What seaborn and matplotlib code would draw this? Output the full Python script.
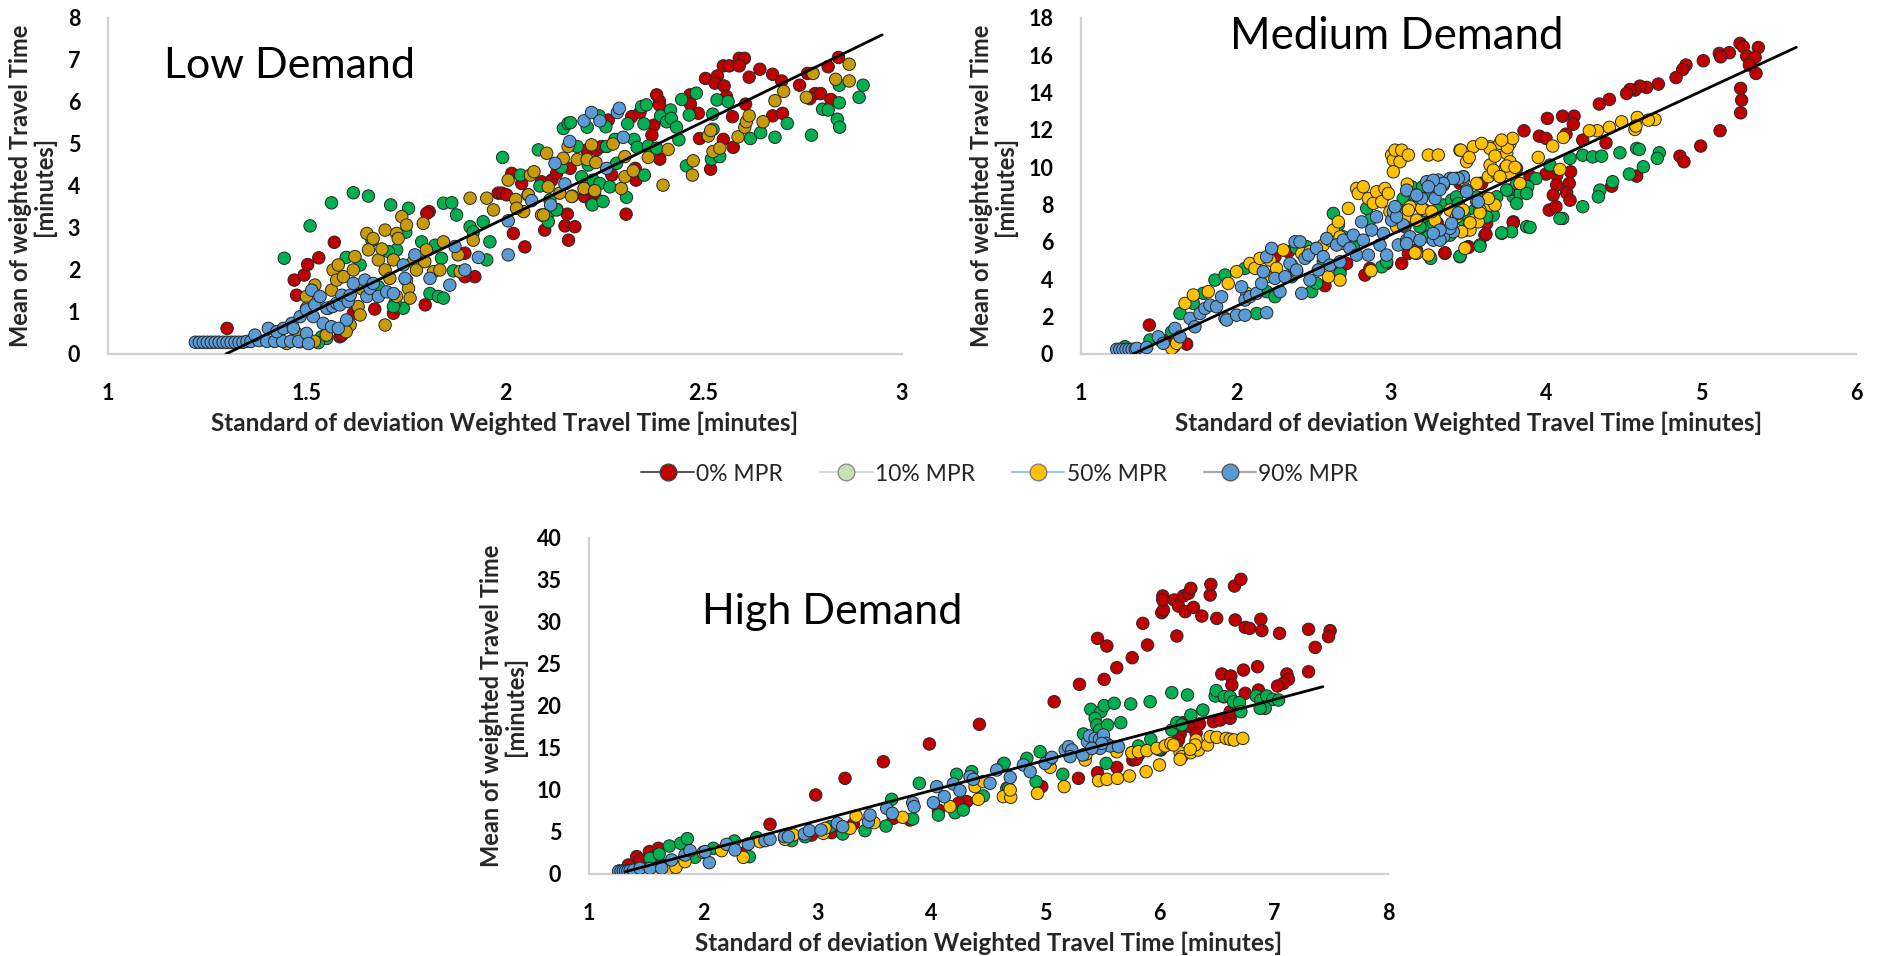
import numpy as np
import pandas as pd
import matplotlib
matplotlib.use("Agg")
import matplotlib.pyplot as plt
import seaborn as sns
from matplotlib.lines import Line2D
from matplotlib.ticker import FuncFormatter

# ---------------- series / labels ----------------
series_names = ["0% MPR", "10% MPR", "50% MPR", "90% MPR"]
panel_titles = ["Low Demand", "Medium Demand", "High Demand"]
x_label = "Standard of deviation Weighted Travel Time [minutes]"
y_label = "Mean of weighted Travel Time\n[minutes]"

low_xticks = [1, 1.5, 2, 2.5, 3]
low_yticks = [0, 1, 2, 3, 4, 5, 6, 7, 8]
med_xticks = [1, 2, 3, 4, 5, 6]
med_yticks = [0, 2, 4, 6, 8, 10, 12, 14, 16, 18]
high_xticks = [1, 2, 3, 4, 5, 6, 7, 8]
high_yticks = [0, 5, 10, 15, 20, 25, 30, 35, 40]

# trend lines (end points)
low_trend_x = [1.297, 2.95]
low_trend_y = [0.0, 7.6]
med_trend_x = [1.335, 5.615]
med_trend_y = [0.0, 16.43]
high_trend_x = [1.32, 7.43]
high_trend_y = [0.28, 22.3]

# ---------------- LOW demand ----------------
low_0 = [(1.30,0.61),(1.475,1.40),(1.469,1.76),(1.494,1.88),(1.503,2.13),(1.531,2.29),(1.57,2.66),
         (1.672,1.07),(1.719,0.97),(1.584,0.41),(1.809,3.39),(1.924,1.84),(1.899,1.84),(1.983,3.83),
         (1.803,3.35),(1.799,1.17),(1.618,0.97),(1.589,0.45),(1.899,2.40),
         (2.021,2.87),(2.05,2.55),(2.16,2.71),(2.10,2.95),(2.151,3.05),(2.176,3.03),(2.305,3.33),
         (2.157,3.33),(2.518,4.40),(2.575,4.92),(2.55,5.11),(2.49,5.13),(2.39,4.64),(2.33,4.14),
         (2.389,6.02),(2.389,5.93),(2.466,6.17),(2.467,5.95),(2.487,5.73),(2.505,6.56),(2.535,6.62),
         (2.529,6.45),(2.552,6.38),(2.55,6.86),(2.565,6.86),(2.59,7.04),(2.603,7.04),(2.59,6.86),
         (2.615,6.59),(2.642,6.78),(2.674,6.66),(2.697,6.50),(2.606,5.95),(2.558,6.13),(2.573,5.65),
         (2.674,5.67),(2.699,5.73),(2.742,6.40),(2.762,6.68),(2.781,6.20),(2.795,6.20),(2.768,6.08),
         (2.821,6.06),(2.814,6.84),(2.84,7.06),
         (2.017,4.30),(2.042,4.06),(2.092,4.10),(2.118,4.14),(2.13,4.30),(2.164,4.42),(2.206,4.86),
         (2.231,4.86),(2.26,5.57),(2.243,4.94),(2.269,4.26),(2.319,5.65),(2.34,5.75),(2.382,6.17),
         (2.375,5.45),(2.37,5.21),(2.328,4.42),(2.20,3.75),(2.20,3.94),(2.227,3.75),(2.218,3.59),
         (1.992,3.83),(2.004,3.79)]
low_10 = [(1.444,2.28),(1.509,3.05),(1.563,3.60),(1.618,3.84),(1.656,3.76),(1.712,3.55),(1.757,3.47),
          (1.727,2.48),(1.635,2.12),(1.706,2.44),(1.845,3.59),(1.866,3.60),(1.878,3.31),(1.811,1.44),
          (1.832,1.37),(1.845,1.33),(1.79,2.67),(1.824,2.59),(1.84,2.28),(1.87,1.98),(1.744,1.09),
          (1.723,1.21),(1.538,0.41),(1.551,0.37),(1.53,0.27),(1.912,3.03),(1.92,2.91),(1.945,3.15),
          (1.954,2.24),(1.962,2.67),(1.681,1.60),(1.719,1.13),(1.60,2.30),(1.665,2.70),(1.75,2.90),
          (1.994,4.68),(2.039,4.26),(2.084,4.86),(2.088,4.00),(2.109,3.35),(2.109,3.15),(2.131,3.44),
          (2.142,4.44),(2.147,5.37),(2.159,5.49),(2.165,5.51),(2.182,4.94),(2.193,4.22),(2.207,5.40),
          (2.21,4.50),(2.222,4.14),(2.22,3.55),(2.237,5.67),(2.239,4.06),(2.247,3.63),(2.254,5.41),
          (2.256,4.94),(2.264,3.98),(2.277,5.11),(2.281,4.54),(2.306,3.73),(2.309,5.48),(2.325,5.11),
          (2.333,4.92),(2.344,5.89),(2.356,5.93),(2.35,5.48),(2.351,4.26),(2.361,4.95),(2.382,4.90),
          (2.392,5.67),(2.407,5.53),(2.417,5.81),(2.419,5.61),(2.432,5.40),(2.438,5.10),(2.445,6.06),
          (2.457,4.48),(2.464,5.69),(2.482,6.21),(2.523,5.71),(2.524,5.35),(2.52,4.64),(2.534,6.05),
          (2.541,4.70),(2.562,6.01),(2.618,5.13),(2.644,5.27),(2.68,5.16),(2.711,5.49),(2.772,5.21),
          (2.80,5.83),(2.814,5.81),(2.837,5.59),(2.843,5.40),(2.842,5.98),(2.842,6.40),(2.892,6.11),
          (2.902,6.40),(2.13,3.43),(2.113,3.67)]
low_50 = [(1.475,0.49),(1.484,0.29),(1.45,0.25),(1.50,1.37),(1.50,1.09),(1.521,1.64),(1.555,1.09),
          (1.563,1.52),(1.567,2.00),(1.576,1.76),(1.58,2.12),(1.593,1.84),(1.618,2.00),(1.622,2.32),
          (1.63,1.13),(1.635,0.93),(1.61,0.69),(1.60,0.53),(1.652,2.87),(1.656,2.48),(1.668,2.75),
          (1.681,2.24),(1.698,2.95),(1.698,2.00),(1.719,2.24),(1.727,2.87),(1.731,2.75),(1.74,3.27),
          (1.752,3.07),(1.752,1.76),(1.757,1.56),(1.769,2.20),(1.777,2.00),(1.794,3.11),(1.798,2.20),
          (1.802,2.48),(1.82,1.96),(1.836,2.00),(1.698,0.69),(1.727,1.37),(1.761,1.33),(1.912,3.71),
          (1.954,3.71),(1.971,3.43),(1.845,2.67),(1.882,2.36),(1.887,1.96),(1.92,2.71),(1.52,0.30),
          (1.55,0.45),(1.64,1.55),(1.69,2.50),(1.71,1.80),
          (2.008,4.14),(2.027,3.68),(2.047,3.39),(2.058,3.79),(2.064,4.26),(2.073,4.34),(2.092,3.31),
          (2.105,4.78),(2.109,3.98),(2.138,3.83),(2.147,4.66),(2.159,4.94),(2.17,3.76),(2.182,4.63),
          (2.199,3.94),(2.207,4.63),(2.218,4.98),(2.226,3.89),(2.229,4.56),(2.272,5.00),(2.293,3.94),
          (2.302,4.22),(2.302,4.70),(2.323,4.36),(2.361,4.68),(2.398,4.02),(2.411,4.87),(2.474,4.60),
          (2.472,4.26),(2.512,5.19),(2.518,5.32),(2.524,4.82),(2.541,4.90),(2.587,5.17),(2.604,5.40),
          (2.608,5.53),(2.615,5.67),(2.65,5.53),(2.68,6.03),(2.702,6.25),(2.759,6.11),(2.776,6.68),
          (2.833,6.54),(2.867,6.50),(2.867,6.90),(2.029,3.47),(2.059,3.79),(2.097,3.31),(2.168,3.75)]
low_90 = [(1.22,0.28),(1.23,0.28),(1.24,0.28),(1.25,0.28),(1.26,0.28),(1.27,0.28),(1.28,0.28),
          (1.29,0.28),(1.30,0.28),(1.31,0.28),(1.32,0.28),(1.33,0.28),(1.34,0.28),(1.35,0.30),
          (1.36,0.30),(1.38,0.32),(1.40,0.30),(1.42,0.30),(1.44,0.30),(1.46,0.30),(1.48,0.30),
          (1.37,0.45),(1.404,0.61),(1.425,0.53),(1.442,0.61),(1.463,0.73),(1.467,0.61),(1.484,0.89),
          (1.50,1.05),(1.50,0.49),(1.505,0.25),(1.517,0.89),(1.521,1.17),(1.513,1.52),(1.534,1.37),
          (1.542,0.73),(1.551,1.09),(1.563,0.65),(1.566,1.13),(1.576,1.21),(1.584,1.17),(1.589,1.40),
          (1.601,0.81),(1.58,0.61),(1.605,1.25),(1.61,1.40),(1.618,1.68),(1.647,1.76),(1.652,1.37),
          (1.66,1.56),(1.668,1.68),(1.681,1.37),(1.702,1.48),(1.719,1.44),(1.748,1.80),(1.744,2.12),
          (1.773,2.36),(1.811,1.80),(1.861,1.64),(1.899,2.00),(1.933,2.30),(1.874,2.56),
          (2.008,2.36),(2.008,3.17),(2.067,3.65),(2.115,3.55),(2.126,4.54),(2.151,4.05),(2.163,5.06),
          (2.199,5.55),(2.218,5.75),(2.239,5.55),(2.256,4.42),(2.283,5.75),(2.288,5.85),(2.298,5.16)]

# ---------------- MEDIUM demand ----------------
med_0 = [(1.441,1.55),(1.682,0.53),(2.251,5.21),(2.337,5.48),(2.574,3.66),(2.671,4.50),(2.714,4.85),
         (2.832,4.23),(2.864,4.59),(2.972,4.85),(3.069,4.85),(3.112,5.39),(3.165,5.57),(3.348,5.39),
         (3.445,9.14),(3.499,5.75),(3.574,9.14),(3.606,6.37),(3.789,7.08),(3.617,6.99),(3.20,6.80),
         (3.30,7.00),(3.40,7.90),(1.60,0.40),(1.55,0.70),
         (5.252,16.64),(5.273,16.46),(5.37,16.42),(5.295,15.96),(5.349,15.89),(5.312,15.48),(5.355,15.03),
         (5.118,16.10),(5.183,16.14),(5.127,15.92),(5.015,15.71),(4.903,15.48),(4.882,15.24),(4.839,14.81),
         (4.725,14.46),(4.649,14.28),(4.606,14.35),(4.574,14.14),(4.542,14.17),(4.52,13.96),(4.409,13.64),
         (4.344,13.39),(5.256,14.23),(5.262,13.60),(5.256,12.92),(5.123,11.96),(4.998,11.14),(4.864,10.60),
         (4.89,10.30),(4.585,9.53),(4.424,8.99),(4.181,12.74),(4.176,12.31),(4.107,12.74),(4.009,12.62),
         (3.858,11.96),(3.957,11.67),(4.00,11.55),(4.129,11.78),(4.237,11.46),(4.387,11.31),(4.069,9.58),
         (4.159,9.76),(4.15,9.14),(4.133,8.64),(4.155,8.24),(4.069,9.05),(4.047,8.51),(4.021,7.71),
         (4.064,7.89),(4.00,9.64),(3.897,9.53),(3.789,7.03),(3.613,6.42),(3.499,5.71),(3.348,5.42),
         (3.585,9.14),(3.81,9.94)]
med_10 = [(1.284,0.39),(1.445,0.75),(1.51,0.75),(1.585,1.19),(1.639,2.17),(1.725,2.71),(1.789,3.25),
          (1.864,3.96),(1.929,4.23),(2.058,4.59),(2.133,2.17),(2.198,3.34),(2.251,3.07),(2.391,5.66),
          (2.456,5.75),(2.488,3.34),(2.563,4.94),(2.628,7.53),(2.66,6.91),(2.692,6.28),(2.757,5.75),
          (2.843,7.80),(2.864,7.17),(2.907,8.33),(2.94,4.67),(2.972,4.94),(3.036,7.89),(3.079,8.33),
          (3.09,6.82),(3.133,8.96),(3.165,8.25),(3.198,8.51),(3.208,7.71),(3.241,7.08),(3.251,5.21),
          (3.262,8.60),(3.338,7.98),(3.37,6.64),(3.391,8.25),(3.423,8.42),(3.445,5.21),(3.466,7.17),
          (3.499,7.35),(3.574,5.84),(3.617,8.07),(3.66,7.44),(3.714,6.46),(3.778,6.55),(3.789,8.42),
          (3.832,8.60),(3.875,6.82),(3.757,8.78),(3.811,9.14),(2.671,4.32),(2.52,3.78),(2.359,4.14),
          (2.951,8.42),(3.251,6.82),
          (4.155,10.48),(4.237,10.65),(4.301,10.56),(4.359,10.60),(4.477,10.78),(4.585,11.01),(4.602,10.96),
          (4.731,10.78),(4.718,10.48),(4.628,10.03),(4.538,9.64),(4.43,9.23),(4.348,8.78),(4.338,8.42),
          (4.237,7.89),(4.107,7.26),(4.09,7.26),(3.897,6.78),(3.714,6.49),(3.574,5.78),(3.445,5.24),
          (3.256,5.12),(4.026,10.12),(3.935,9.40),(3.882,8.96),(3.746,8.78),(3.811,8.06),(3.875,8.60),
          (3.682,8.42),(3.542,7.71),(3.617,7.35),(3.488,6.64),(3.381,6.37),(3.241,6.28),(3.273,6.99),
          (3.187,6.81),(3.144,8.06),(3.204,8.96),(3.295,7.71),(3.434,8.06),(3.553,8.42)]
med_50 = [(1.585,0.30),(1.617,0.57),(1.671,2.71),(1.725,3.16),(1.821,3.34),(1.95,3.78),(2.004,4.41),
          (2.069,3.25),(2.09,4.85),(2.122,4.59),(2.155,5.12),(2.198,4.14),(2.219,5.03),(2.262,4.59),
          (2.305,5.57),(2.359,4.76),(2.391,4.41),(2.424,5.39),(2.477,5.48),(2.52,5.66),(2.563,5.84),
          (2.606,6.10),(2.628,6.64),(2.66,7.08),(2.671,6.28),(2.692,5.93),(2.725,7.80),(2.778,8.87),
          (2.789,8.60),(2.821,8.96),(2.854,8.33),(2.886,8.07),(2.907,8.69),(2.94,8.16),(2.961,8.87),
          (2.983,8.60),(3.004,10.66),(3.015,10.39),(3.026,10.92),(3.058,10.30),(3.069,10.92),(3.015,9.76),
          (3.112,10.66),(3.241,10.66),(3.305,10.66),(2.993,7.62),(3.036,6.82),(3.101,7.35),(3.123,7.89),
          (3.165,7.17),(3.219,7.71),(3.284,7.17),(3.381,7.71),(3.424,7.35),(3.466,7.71),(3.51,6.64),
          (3.531,7.17),(3.563,7.08),(3.627,8.33),(3.639,7.98),(3.671,7.98),(3.574,7.71),(3.466,9.32),
          (3.553,9.14),(3.628,9.50),(3.681,9.68),(3.735,9.94),(3.767,9.68),(3.639,10.12),(3.445,10.92),
          (3.488,10.30),(3.531,11.10),(3.638,11.10),(3.746,10.75),(3.703,11.28),(3.767,11.28),(3.241,5.30),
          (3.165,5.39),(3.477,5.66),(2.871,4.46),(2.671,3.96),(2.596,4.14),
          (4.703,12.56),(4.66,12.53),(4.589,12.67),(4.574,12.03),(4.58,12.21),(4.488,12.44),(4.409,12.14),
          (4.331,11.96),(4.28,11.96),(4.112,11.60),(4.043,11.14),(3.95,10.53),(3.832,9.14),(3.768,10.30),
          (3.751,11.06),(3.785,11.55),(3.714,11.46),(3.639,11.01),(3.585,11.28),(3.45,10.92),(3.505,10.53),
          (3.671,10.60),(3.746,10.07),(3.66,9.85),(3.703,9.50),(3.80,10.00),(4.09,9.89),(3.628,8.33),
          (3.574,7.56),(3.105,9.10),(3.51,7.03),(3.456,6.55),(3.155,5.42),(3.112,7.71),(3.198,7.80),
          (3.262,7.62)]
med_90 = [(1.23,0.25),(1.25,0.25),(1.27,0.25),(1.29,0.25),(1.31,0.25),(1.33,0.25),(1.35,0.25),
          (1.36,0.30),(1.424,0.35),(1.499,0.92),(1.531,0.57),(1.606,1.37),(1.639,0.92),(1.703,1.91),
          (1.735,1.46),(1.768,2.17),(1.80,2.44),(1.832,2.62),(1.875,2.53),(1.907,3.07),(1.929,1.91),
          (1.94,1.82),(2.004,2.08),(2.036,3.60),(2.058,2.89),(2.058,2.08),(2.09,3.07),(2.133,3.25),
          (2.165,3.78),(2.176,4.41),(2.198,2.21),(2.198,5.21),(2.23,5.66),(2.251,4.05),(2.284,3.34),
          (2.316,4.14),(2.348,4.85),(2.381,6.01),(2.413,6.01),(2.391,4.50),(2.424,3.25),(2.445,5.12),
          (2.467,5.30),(2.477,3.96),(2.52,5.66),(2.531,4.50),(2.563,5.21),(2.585,6.19),(2.606,4.76),
          (2.649,5.84),(2.671,4.94),(2.692,6.10),(2.735,5.66),(2.757,6.37),(2.778,5.30),(2.81,7.08),
          (2.821,6.10),(2.854,5.30),(2.875,6.64),(2.907,7.35),(2.929,5.84),(2.951,6.46),(2.972,5.30),
          (3.004,7.17),(3.015,7.62),(3.047,5.84),(3.079,6.91),(3.101,6.10),(3.123,6.28),(3.155,8.51),
          (3.198,8.33),(3.23,9.23),(3.262,9.14),(3.284,8.33),(3.305,9.32),(3.338,9.05),(3.381,9.41),
          (3.424,9.41),(3.466,9.50),(3.434,7.53),(3.402,6.55),(3.338,6.28),(3.273,6.10),(3.488,8.78),
          (3.553,8.16),(3.38,6.73),(3.316,6.10),(3.101,8.78),(3.036,7.35),(3.026,7.89),
          (3.467,9.49),(3.434,9.40),(3.402,9.40),(3.337,9.14),(3.316,8.81),(3.273,9.31),(3.241,8.96),
          (3.166,8.51),(3.563,8.15),(3.488,8.69),(3.434,7.56),(3.391,6.99),(3.316,6.64),(3.273,6.46),
          (3.187,6.10),(3.101,5.92)]

# ---------------- HIGH demand ----------------
high_0 = [(1.418,2.07),(1.447,1.67),(1.529,2.66),(1.608,3.06),(1.345,1.07),(2.586,5.92),(2.986,9.41),
          (3.243,11.39),(3.579,13.37),(3.982,15.48),(4.42,17.82),(2.352,2.46),(3.316,5.95),(3.126,4.92),
          (3.666,6.63),(4.061,7.62),(4.309,8.61),(3.812,6.43),(2.951,4.64),(4.236,8.41),(1.628,1.19),
          (1.535,1.35),
          (5.075,20.51),(5.297,22.58),(5.513,23.17),(5.455,28.05),(5.537,27.14),(5.624,24.56),(5.759,25.75),
          (5.852,29.84),(5.893,27.26),(6.018,31.11),(6.033,31.43),(6.027,33.10),(6.027,32.62),(6.126,32.62),
          (6.164,31.90),(6.208,33.10),(6.252,33.41),(6.273,34.01),(6.223,31.23),(6.296,31.74),(6.15,28.33),
          (6.369,30.71),(6.442,33.21),(6.448,34.48),(6.50,30.43),(6.655,34.28),(6.711,35.08),(6.661,30.24),
          (6.749,29.36),(6.787,29.24),(6.886,30.32),(6.895,28.97),(7.05,28.65),(7.304,29.13),(7.362,26.98),
          (7.493,28.97),(7.479,28.25),(6.544,23.81),(6.623,23.57),(6.734,24.28),(6.857,24.68),(6.632,22.50),
          (6.559,21.11),(7.114,23.81),(7.128,23.17),(7.084,22.70),(7.032,22.38),(7.304,24.08),(6.749,21.51),
          (6.471,18.13),(6.53,18.33),(6.617,18.53),(6.865,21.90),(6.617,19.32),(6.202,18.01),(6.267,17.54),
          (6.349,17.86),(6.319,16.75),(6.179,16.67),(6.164,15.95),(6.144,15.44),(6.01,14.76),(5.764,13.57),
          (5.814,14.17),(5.624,12.69),(5.455,12.06),(5.288,11.39),(4.967,10.40),(5.756,14.44),(5.794,13.65)]
high_10 = [(1.535,1.87),(1.616,2.38),(1.704,3.33),(1.803,3.65),(1.862,4.21),(1.929,1.98),(2.09,3.06),
           (2.273,3.93),(2.405,2.06),(2.469,4.33),(2.776,3.97),(2.893,4.44),(3.112,5.63),(3.223,4.76),
           (3.418,5.16),(3.602,5.71),(3.652,8.89),(3.894,10.80),(4.061,7.02),(4.207,7.30),(4.221,11.87),
           (4.28,7.62),(4.353,12.19),(4.63,13.10),(4.455,9.29),(4.674,9.41),(4.66,10.20),(3.836,6.55),
           (4.637,13.17),(4.836,13.77),(4.952,14.56),(5.151,11.87),(4.917,10.99),(4.675,10.20),(5.396,19.60),
           (5.484,19.32),(5.513,20.04),(5.601,20.32),(5.746,20.24),(5.916,20.51),(6.106,21.59),(6.243,21.31),
           (5.434,18.53),(5.449,17.74),(5.472,17.14),(5.543,17.74),(5.659,18.01),(5.332,16.67),(5.531,13.17),
           (5.814,15.24),(5.922,16.03),(5.989,14.84),(6.106,17.14),(6.15,18.01),(6.273,18.92),(6.194,17.74),
           (6.378,19.52),(6.486,21.19),(6.495,21.83),(6.565,21.11),(6.617,21.11),(6.646,20.51),(6.699,20.40),
           (6.711,19.32),(6.845,21.19),(6.886,20.71),(6.938,21.19),(6.991,20.79),(7.041,20.71),(6.924,19.72),
           (6.88,19.72)]
high_50 = [(1.686,0.56),(1.762,0.79),(1.841,1.47),(2.002,2.58),(2.162,2.78),(2.352,1.98),(2.498,3.85),
           (2.717,4.13),(2.79,4.64),(3.053,4.84),(3.068,5.44),(3.287,5.44),(3.34,6.90),(3.497,6.11),
           (3.748,6.75),(4.163,8.02),(4.382,10.40),(4.455,11.00),(4.411,8.89),(4.63,9.21),(1.60,0.30),
           (4.695,9.13),(4.69,10.00),(4.929,9.60),(5.04,12.70),(5.163,10.40),(5.347,13.57),(5.355,14.28),
           (5.464,11.11),(5.537,11.27),(5.63,11.39),(5.735,11.67),(5.881,12.18),(5.998,12.98),(5.624,14.56),
           (5.756,14.44),(5.814,14.56),(5.887,14.68),(5.975,14.96),(6.048,15.24),(6.097,15.55),(6.179,14.44),
           (6.194,13.97),(6.273,14.44),(6.331,15.08),(6.34,14.76),(6.419,15.36),(6.442,16.35),(6.50,16.27),
           (6.582,16.15),(6.617,16.03),(6.652,15.95),(6.728,16.15),(6.319,15.95),(6.311,15.36),(6.121,15.36),
           (6.267,14.84),(6.179,13.65)]
high_90 = [(1.26,0.35),(1.28,0.35),(1.30,0.35),(1.32,0.35),(1.34,0.35),(1.36,0.40),(1.39,0.45),
           (1.447,0.68),(1.535,0.68),(1.637,0.68),(1.724,1.67),(1.841,2.26),(1.885,2.78),(2.054,1.35),
           (2.016,2.66),(2.206,3.53),(2.279,2.86),(2.396,3.57),(2.542,3.97),(2.586,4.13),(2.712,4.44),
           (2.747,4.44),(2.887,4.76),(2.931,5.16),(3.033,5.24),(3.176,6.03),(3.223,5.63),(3.448,6.23),
           (3.462,7.02),(3.608,7.82),(3.658,7.22),(3.836,8.49),(3.848,8.02),(4.017,8.49),(4.046,10.40),
           (4.113,9.21),(4.192,10.72),(4.25,9.92),(4.338,11.59),(4.513,10.80),(4.572,12.38),(4.367,11.27),
           (4.69,11.50),(4.806,12.98),(4.865,12.18),(5.04,13.65),(5.172,14.76),(5.201,15.16),(5.23,14.76),
           (5.326,14.17),(5.367,15.75),(5.385,16.43),(5.434,16.15),(5.472,16.03),(5.507,16.55),(5.531,15.55),
           (5.566,15.24),(5.639,15.16),(5.478,14.96),(5.215,13.97),(4.996,13.17),(5.055,13.89),(5.493,15.55),
           (5.405,14.96)]

# ---------------- style ----------------
palette_std = {"0% MPR": "#C00000", "10% MPR": "#00B050", "50% MPR": "#FFC000", "90% MPR": "#5B9BD5"}
palette_low = {"0% MPR": "#C00000", "10% MPR": "#00B050", "50% MPR": "#C89B0B", "90% MPR": "#5B9BD5"}

sns.set_theme(style="white")
plt.rcParams["font.family"] = ["Lato", "DejaVu Sans"]

W, H = 1881, 956
fig = plt.figure(figsize=(W / 100, H / 100), dpi=100)


def frame(data_lists):
    rows = []
    for name, pts in zip(series_names, data_lists):
        for x, y in pts:
            rows.append((name, x, y))
    return pd.DataFrame(rows, columns=["series", "sd", "mean"])


panels = [
    dict(rect=(108, 18, 902, 354), data=[low_0, low_10, low_50, low_90], pal=palette_low,
         xlim=(1, 3), ylim=(0, 8), xt=low_xticks, yt=low_yticks, tx=low_trend_x, ty=low_trend_y,
         title=panel_titles[0], tpos=(0.070, 0.857), tsize=31, ylx=-0.066),
    dict(rect=(1081, 18, 1856, 354), data=[med_0, med_10, med_50, med_90], pal=palette_std,
         xlim=(1, 6), ylim=(0, 18), xt=med_xticks, yt=med_yticks, tx=med_trend_x, ty=med_trend_y,
         title=panel_titles[1], tpos=(0.192, 0.946), tsize=31.5, ylx=-0.083),
    dict(rect=(589, 538, 1388, 874), data=[high_0, high_10, high_50, high_90], pal=palette_std,
         xlim=(1, 8), ylim=(0, 40), xt=high_xticks, yt=high_yticks, tx=high_trend_x, ty=high_trend_y,
         title=panel_titles[2], tpos=(0.141, 0.78), tsize=31, ylx=-0.078),
]

fmt = FuncFormatter(lambda v, p: f"{v:g}")

for p in panels:
    l, t, r, b = p["rect"]
    ax = fig.add_axes([l / W, 1 - b / H, (r - l) / W, (b - t) / H])
    df = frame(p["data"])
    sns.scatterplot(data=df, x="sd", y="mean", hue="series", hue_order=series_names,
                    palette=p["pal"], s=80, edgecolor="#262626", linewidth=0.7,
                    legend=False, ax=ax, zorder=3)
    ax.plot(p["tx"], p["ty"], color="black", lw=2.0, zorder=4)
    ax.set_xlim(*p["xlim"])
    ax.set_ylim(*p["ylim"])
    ax.set_xticks(p["xt"])
    ax.set_yticks(p["yt"])
    ax.xaxis.set_major_formatter(fmt)
    ax.yaxis.set_major_formatter(fmt)
    for s in ["top", "right"]:
        ax.spines[s].set_visible(False)
    for s in ["left", "bottom"]:
        ax.spines[s].set_color("#D0D0D0")
        ax.spines[s].set_linewidth(1.6)
    ax.tick_params(axis="both", length=0, labelsize=15.5, colors="black")
    ax.tick_params(axis="x", pad=21)
    ax.tick_params(axis="y", pad=20)
    for lab in ax.get_xticklabels() + ax.get_yticklabels():
        lab.set_fontweight("bold")
    ax.set_xlabel(x_label, fontsize=17.5, fontweight="bold")
    ax.set_ylabel(y_label, fontsize=17, fontweight="bold", linespacing=1.0)
    ax.xaxis.set_label_coords(0.5, -0.172)
    ax.yaxis.set_label_coords(p["ylx"], 0.5)
    ax.text(p["tpos"][0], p["tpos"][1], p["title"], transform=ax.transAxes,
            fontsize=p["tsize"], va="center", ha="left", color="black")
    ax.set_facecolor("white")

# legend (Excel style: line through marker)
legend_faces = ["#C00000", "#C5E0B4", "#FFC000", "#5B9BD5"]
legend_lines = ["#595959", "#D9D9D9", "#9DC3E6", "#A6A6A6"]
legend_edges = ["#404040", "#8C8C8C", "#7F7F7F", "#595959"]
handles = [Line2D([0], [0], color=lc, lw=1.5, marker="o", markersize=12,
                  markerfacecolor=fc, markeredgecolor=ec, markeredgewidth=1.0)
           for fc, lc, ec in zip(legend_faces, legend_lines, legend_edges)]
fig.legend(handles, series_names, loc="center", ncol=4, frameon=False,
           bbox_to_anchor=(1000 / W, 1 - 474 / H), fontsize=16.5,
           handlelength=2.3, handletextpad=0.1, columnspacing=1.6)

fig.savefig("out.png", dpi=100, facecolor="white")
